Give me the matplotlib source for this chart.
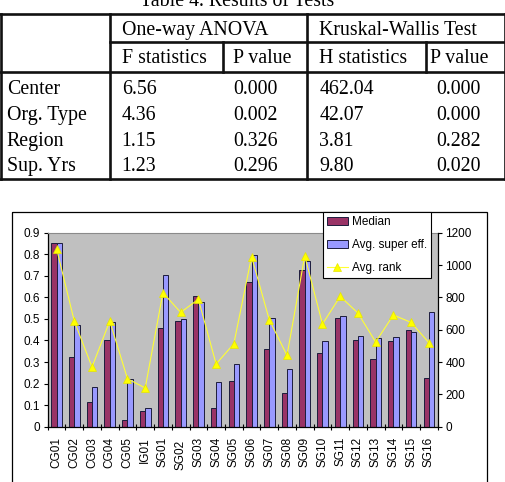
import numpy as np
import matplotlib
matplotlib.use("Agg")
import matplotlib.pyplot as plt
from matplotlib.patches import Rectangle

# ---------------- data ----------------
table_title = "Table 4. Results of Tests"
group_headers = ["One-way ANOVA", "Kruskal-Wallis Test"]
sub_headers = ["F statistics", "P value", "H statistics", "P value"]
row_labels = ["Center", "Org. Type", "Region", "Sup. Yrs"]
f_stat = ["6.56", "4.36", "1.15", "1.23"]
f_pval = ["0.000", "0.002", "0.326", "0.296"]
h_stat = ["462.04", "42.07", "3.81", "9.80"]
h_pval = ["0.000", "0.000", "0.282", "0.020"]

categories = ["CG01", "CG02", "CG03", "CG04", "CG05", "IG01", "SG01", "SG02",
              "SG03", "SG04", "SG05", "SG06", "SG07", "SG08", "SG09", "SG10",
              "SG11", "SG12", "SG13", "SG14", "SG15", "SG16"]
median = [0.850, 0.325, 0.113, 0.402, 0.031, 0.075, 0.456, 0.490, 0.605, 0.089, 0.211,
          0.670, 0.362, 0.155, 0.725, 0.340, 0.503, 0.400, 0.312, 0.397, 0.450, 0.226]
avg_super_eff = [0.850, 0.473, 0.185, 0.484, 0.222, 0.089, 0.706, 0.500, 0.580, 0.207, 0.292,
                 0.798, 0.504, 0.266, 0.770, 0.397, 0.512, 0.419, 0.411, 0.414, 0.439, 0.533]
avg_rank = [1101, 653, 369, 653, 297, 239, 829, 707, 788, 388, 513,
            1052, 661, 441, 1057, 635, 806, 703, 524, 691, 645, 520]
left_ticks = [0, 0.1, 0.2, 0.3, 0.4, 0.5, 0.6, 0.7, 0.8, 0.9]
right_ticks = [0, 200, 400, 600, 800, 1000, 1200]
series_names = ["Median", "Avg. super eff.", "Avg. rank"]

W, H = 506, 482
fig = plt.figure(figsize=(W / 100, H / 100), dpi=100)

# ---------------- background / table layer (pixel coords) ----------------
bg = fig.add_axes([0, 0, 1, 1], zorder=0)
bg.set_xlim(0, W)
bg.set_ylim(H, 0)
bg.axis("off")

serif = ["Liberation Serif", "DejaVu Serif"]
tfs = 14.3
lw_t = 1.9
lc = "#111111"

bg.text(237, 6, table_title, fontsize=tfs, family=serif, ha="center", va="baseline")

xs = [1, 110, 222.7, 307.3, 426, 505]
ys = [14, 41.7, 71.7, 179]
bg.plot([0, 506], [ys[0], ys[0]], color=lc, lw=lw_t)
bg.plot([xs[1], 506], [ys[1], ys[1]], color=lc, lw=lw_t)
bg.plot([0, 506], [ys[2], ys[2]], color=lc, lw=lw_t)
bg.plot([0, 506], [ys[3], ys[3]], color=lc, lw=lw_t)
for xv in (xs[0], xs[1], xs[3], xs[5]):
    bg.plot([xv, xv], [ys[0], ys[3]], color=lc, lw=lw_t)
for xv in (xs[2], xs[4]):
    bg.plot([xv, xv], [ys[1], ys[2]], color=lc, lw=lw_t)

bg.text(121.7, 35, group_headers[0], fontsize=tfs, family=serif, va="baseline")
bg.text(319.3, 35, group_headers[1], fontsize=tfs, family=serif, va="baseline")
for sx, s in zip([121.7, 233, 319.3, 430], sub_headers):
    bg.text(sx, 63.3, s, fontsize=tfs, family=serif, va="baseline")
row_base = [94.3, 120, 145.7, 171]
for i, yb in enumerate(row_base):
    bg.text(6.7, yb, row_labels[i], fontsize=tfs, family=serif, va="baseline")
    bg.text(121.7, yb, f_stat[i], fontsize=tfs, family=serif, va="baseline")
    bg.text(233.3, yb, f_pval[i], fontsize=tfs, family=serif, va="baseline")
    bg.text(319.3, yb, h_stat[i], fontsize=tfs, family=serif, va="baseline")
    bg.text(436.7, yb, h_pval[i], fontsize=tfs, family=serif, va="baseline")

bg.add_patch(Rectangle((12.3, 211.7), 486.7 - 12.3, 300, fill=False,
                       edgecolor="black", lw=0.9))

# ---------------- chart ----------------
sans = ["Liberation Sans", "DejaVu Sans"]
plt.rcParams["font.family"] = sans
cfs = 8.5
px_l, px_r, px_t, px_b = 47.7, 437.7, 232.7, 426.7
ax = fig.add_axes([px_l / W, 1 - px_b / H, (px_r - px_l) / W, (px_b - px_t) / H], zorder=2)
ax.set_facecolor("#c0c0c0")

x = np.arange(len(categories))
bw = 0.3
ax.bar(x - bw / 2, median, width=bw, color="#993366", edgecolor="#1c1c3c",
       linewidth=0.7, label=series_names[0], zorder=2)
ax.bar(x + bw / 2, avg_super_eff, width=bw, color="#9999ff", edgecolor="#1c1c3c",
       linewidth=0.7, label=series_names[1], zorder=2)
ax.set_xlim(-0.5, len(categories) - 0.5)
ax.set_ylim(0, 0.9)
ax.set_yticks(left_ticks)
ax.set_yticklabels(["0" if v == 0 else f"{v:.1f}" for v in left_ticks], fontsize=cfs)
ax.tick_params(axis="y", direction="out", length=3, width=0.8, pad=2.5)

ax.set_xticks(x)
ax.set_xticklabels(categories, rotation=90, fontsize=cfs)
ax.set_xticks(np.arange(-0.5, len(categories) + 0.5, 1), minor=True)
ax.tick_params(axis="x", which="major", length=0, pad=7.3)
ax.tick_params(axis="x", which="minor", direction="inout", length=5, width=0.8)
ax.xaxis.get_major_ticks()[7].set_pad(9.8)

for s in ("left", "bottom"):
    ax.spines[s].set_color("black")
    ax.spines[s].set_linewidth(0.9)
ax.spines["top"].set_color("#8a8a8a")
ax.spines["top"].set_linewidth(0.8)
ax.spines["right"].set_visible(False)

ax2 = ax.twinx()
ax2.plot(x, avg_rank, color="#ffff33", lw=0.8, marker="^", markersize=6,
         markerfacecolor="#ffff00", markeredgecolor="#e6e600", markeredgewidth=0.5,
         label=series_names[2], zorder=3)
ax2.set_ylim(0, 1200)
ax2.set_yticks(right_ticks)
ax2.set_yticklabels([str(v) for v in right_ticks], fontsize=cfs)
ax2.tick_params(axis="y", direction="out", length=3, width=0.8, pad=2.5)
ax2.spines["right"].set_color("black")
ax2.spines["right"].set_linewidth(0.9)
for s in ("top", "left", "bottom"):
    ax2.spines[s].set_visible(False)

h1, l1 = ax.get_legend_handles_labels()
h2, l2 = ax2.get_legend_handles_labels()
leg = ax2.legend(h1 + h2, l1 + l2, loc="upper left",
                 bbox_to_anchor=(322.7 / W, 1 - 211.7 / H), bbox_transform=fig.transFigure,
                 borderaxespad=0, fontsize=cfs, frameon=True, fancybox=False,
                 edgecolor="black", framealpha=1, borderpad=0.35, labelspacing=0.95,
                 handlelength=1.8, handletextpad=0.3, borderaxespad_=None) if False else \
      ax2.legend(h1 + h2, l1 + l2, loc="upper left",
                 bbox_to_anchor=(322.7 / W, 1 - 211.7 / H), bbox_transform=fig.transFigure,
                 borderaxespad=0, fontsize=cfs, frameon=True, fancybox=False,
                 edgecolor="black", framealpha=1, borderpad=0.35, labelspacing=0.95,
                 handlelength=1.8, handletextpad=0.3)
leg.get_frame().set_linewidth(0.8)
leg.set_zorder(10)

fig.savefig("out.png", dpi=100)
